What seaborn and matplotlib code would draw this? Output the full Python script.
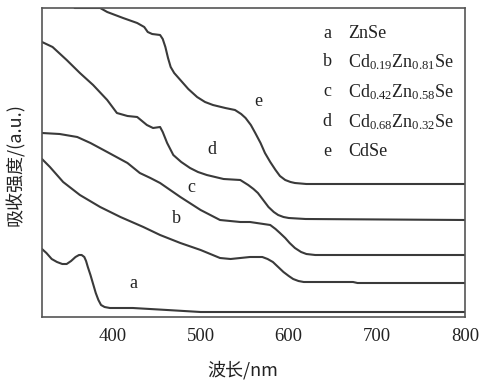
import numpy as np
import pandas as pd
import matplotlib
matplotlib.use("Agg")
import matplotlib.pyplot as plt
import seaborn as sns

# ---- data (wavelength nm, absorbance in arbitrary offset units) ----
wl_a = [320, 325, 331, 337, 343, 348, 353, 358, 362, 365, 368, 370, 372, 375, 378, 381, 384, 387,
        391, 397, 423, 462, 500, 556, 800]
ab_a = [68, 64, 58, 55, 53, 53, 56, 60, 62, 62, 60, 56, 50, 42, 33, 24, 17, 12,
        10, 9, 9, 7, 5, 5, 5]

wl_b = [320, 329, 344, 363, 386, 409, 435, 454, 477, 500, 522, 534, 556, 570, 576, 582, 588, 594,
        600, 605, 611, 617, 673, 678, 800]
ab_b = [158, 150, 135, 122, 110, 100, 90, 82, 74, 67, 59, 58, 60, 60, 58, 55, 50, 45,
        41, 38, 36, 35, 35, 34, 34]

wl_c = [320, 340, 360, 375, 394, 417, 431, 443, 454, 477, 500, 522, 545, 556, 579, 585, 590, 596,
        601, 607, 614, 620, 630, 800]
ab_c = [184, 183, 180, 174, 165, 154, 144, 139, 134, 120, 107, 97, 95, 95, 92, 88, 84, 79,
        74, 69, 65, 63, 62, 62]

wl_d = [320, 332, 348, 363, 378, 394, 405, 417, 428, 439, 446, 454, 457, 462, 469, 478, 488, 497,
        507, 526, 545, 554, 560, 565, 571, 577, 583, 588, 594, 600, 619, 800]
ab_d = [275, 270, 257, 244, 232, 217, 204, 201, 200, 192, 189, 190, 185, 174, 162, 155, 149, 145,
        142, 138, 137, 132, 128, 124, 117, 110, 105, 102, 100, 99, 98, 97]

wl_e = [357, 386, 394, 412, 428, 436, 440, 445, 454, 457, 460, 463, 466, 470, 477, 486, 496, 505,
        514, 528, 539, 546, 551, 557, 562, 568, 573, 579, 585, 590, 596, 602, 607, 620, 800]
ab_e = [309, 309, 305, 299, 294, 290, 285, 283, 282, 278, 270, 259, 250, 244, 237, 228, 220, 215,
        212, 209, 207, 203, 199, 192, 184, 174, 164, 155, 147, 141, 137, 135, 134, 133, 133]

curve_ids = ["a", "b", "c", "d", "e"]
legend_names = ["ZnSe",
                r"$\mathrm{Cd}_{0.19}\mathrm{Zn}_{0.81}\mathrm{Se}$",
                r"$\mathrm{Cd}_{0.42}\mathrm{Zn}_{0.58}\mathrm{Se}$",
                r"$\mathrm{Cd}_{0.68}\mathrm{Zn}_{0.32}\mathrm{Se}$",
                "CdSe"]
x_ticks = [400, 500, 600, 700, 800]

frames = []
for cid, w, a in zip(curve_ids, [wl_a, wl_b, wl_c, wl_d, wl_e], [ab_a, ab_b, ab_c, ab_d, ab_e]):
    frames.append(pd.DataFrame({"wl": w, "ab": a, "curve": cid}))
df = pd.concat(frames, ignore_index=True)

sns.set_theme(style="white")
plt.rcParams["font.family"] = ["Liberation Serif", "Noto Sans CJK SC", "DejaVu Sans"]
plt.rcParams["mathtext.fontset"] = "custom"
plt.rcParams["mathtext.rm"] = "Liberation Serif"
plt.rcParams["mathtext.it"] = "Liberation Serif:italic"
plt.rcParams["lines.solid_joinstyle"] = "round"
plt.rcParams["lines.solid_capstyle"] = "round"

W, H = 483, 387
fig = plt.figure(figsize=(W / 100, H / 100), dpi=100)
ax = fig.add_axes([42 / W, 1 - 317 / H, (465 - 42) / W, (317 - 8) / H])

line_col = "#3a3a3a"
sns.lineplot(data=df, x="wl", y="ab", hue="curve", units="curve", estimator=None,
             palette={c: line_col for c in curve_ids}, linewidth=1.5, sort=False,
             legend=False, ax=ax)

ax.set_xlim(320, 800)
ax.set_ylim(0, 309)
ax.set_xticks(x_ticks)
ax.set_xticklabels([str(t) for t in x_ticks], fontsize=13.5, color="#222222")
ax.set_yticks([])
ax.tick_params(axis="x", direction="in", length=5, width=1, color="#444444", pad=8)
ax.set_xlabel("")
ax.set_ylabel("")
for s in ax.spines.values():
    s.set_color("#555555")
    s.set_linewidth(1.2)

def px(x, y):
    return x / W, 1 - y / H

# curve labels
for lab, (x, y) in zip(curve_ids, [(133, 283), (176, 218), (191, 187), (212, 150), (258, 101)]):
    fig.text(*px(x, y), lab, fontsize=13, ha="center", va="center", color="#222222")

# legend text
rows = [33, 62, 92, 122, 152]
for lab, name, y in zip(curve_ids, legend_names, rows):
    fig.text(*px(327, y), lab, fontsize=13, ha="center", va="center", color="#222222")
    fig.text(*px(348, y), name, fontsize=13, ha="left", va="center", color="#222222")

fig.text(*px(243, 370), "波长/nm", fontsize=13, ha="center", va="center", color="#222222",
         family=["Noto Sans CJK SC", "DejaVu Sans"])
fig.text(*px(15, 165), "吸收强度/(a.u.)", fontsize=13, ha="center", va="center", rotation=90,
         color="#222222", family=["Noto Sans CJK SC", "DejaVu Sans"])

fig.savefig("out.png", dpi=100, facecolor="white")
